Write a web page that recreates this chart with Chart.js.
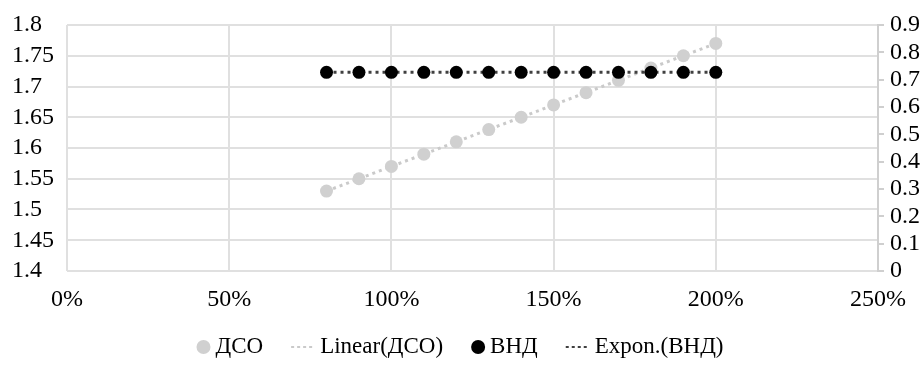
<!DOCTYPE html>
<html>
<head>
<meta charset="utf-8">
<script src="https://cdn.jsdelivr.net/npm/chart.js@4.4.1/dist/chart.umd.min.js"></script>
<style>
  html, body { margin: 0; padding: 0; background: #fff; }
  #wrap { width: 924px; height: 369px; }
</style>
</head>
<body>
<div id="wrap"><canvas id="c" width="924" height="369"></canvas></div>
<script>
// ---- data ----
const xPercent   = [80, 90, 100, 110, 120, 130, 140, 150, 160, 170, 180, 190, 200];
const dsoValues  = [1.53, 1.55, 1.57, 1.59, 1.61, 1.63, 1.65, 1.67, 1.69, 1.71, 1.73, 1.75, 1.77];
const vndValues  = [0.727, 0.727, 0.727, 0.727, 0.727, 0.727, 0.727, 0.727, 0.727, 0.727, 0.727, 0.727, 0.727];
const trendX     = [80, 200];
const dsoTrend   = [1.53, 1.77];
const vndTrend   = [0.727, 0.727];
const seriesLabels = ['ДСО', 'Linear(ДСО)', 'ВНД', 'Expon.(ВНД)'];

const FONT = "'Liberation Serif', 'Times New Roman', serif";
const toPts = (xs, ys) => xs.map((x, i) => ({x: x, y: ys[i]}));

const legendPlugin = {
  id: 'customLegend',
  afterDraw(chart) {
    const ctx = chart.ctx;
    const items = chart.data.datasets.map(d => d).sort((a, b) => a.legendIndex - b.legendIndex);
    ctx.save();
    ctx.font = '23px ' + FONT;
    ctx.textBaseline = 'middle';
    const gapItem = 28, circleW = 14, lineW = 24, gapText = 5;
    const widths = items.map(d => (d.legendType === 'circle' ? circleW : lineW) + gapText + ctx.measureText(d.label).width);
    const total = widths.reduce((a, b) => a + b, 0) + gapItem * (items.length - 1);
    let x = 460 - total / 2;
    const y = 347;
    items.forEach((d, i) => {
      if (d.legendType === 'circle') {
        ctx.beginPath();
        ctx.arc(x + circleW / 2, y, 7, 0, Math.PI * 2);
        ctx.fillStyle = d.backgroundColor;
        ctx.fill();
        x += circleW + gapText;
      } else {
        ctx.beginPath();
        ctx.setLineDash([3, 3]);
        ctx.lineWidth = 2;
        ctx.strokeStyle = d.borderColor;
        ctx.moveTo(x, y);
        ctx.lineTo(x + lineW, y);
        ctx.stroke();
        ctx.setLineDash([]);
        x += lineW + gapText;
      }
      ctx.fillStyle = '#000';
      ctx.textAlign = 'left';
      ctx.fillText(d.label, x, y);
      x += ctx.measureText(d.label).width + gapItem;
    });
    ctx.restore();
  }
};

new Chart(document.getElementById('c'), {
  type: 'scatter',
  data: {
    datasets: [
      {
        label: seriesLabels[2], legendIndex: 2, legendType: 'circle',
        data: toPts(xPercent, vndValues), yAxisID: 'y1',
        backgroundColor: '#000000', borderColor: '#000000',
        pointRadius: 6.5, pointBorderWidth: 0, order: 0
      },
      {
        label: seriesLabels[3], legendIndex: 3, legendType: 'line',
        data: toPts(trendX, vndTrend), yAxisID: 'y1', showLine: true,
        borderColor: '#404040', borderWidth: 3, borderDash: [3, 4],
        pointRadius: 0, order: 1
      },
      {
        label: seriesLabels[0], legendIndex: 0, legendType: 'circle',
        data: toPts(xPercent, dsoValues), yAxisID: 'y',
        backgroundColor: '#d0d0d0', borderColor: '#d0d0d0',
        pointRadius: 6.5, pointBorderWidth: 0, order: 2
      },
      {
        label: seriesLabels[1], legendIndex: 1, legendType: 'line',
        data: toPts(trendX, dsoTrend), yAxisID: 'y', showLine: true,
        borderColor: '#cacaca', borderWidth: 3, borderDash: [3, 4],
        pointRadius: 0, order: 3
      }
    ]
  },
  options: {
    responsive: false,
    animation: false,
    devicePixelRatio: 1,
    layout: { padding: { left: 12, top: 25, right: 0, bottom: 0 } },
    plugins: { legend: { display: false }, tooltip: { enabled: false } },
    scales: {
      x: {
        type: 'linear', min: 0, max: 250,
        ticks: { stepSize: 50, autoSkip: false, callback: v => v + '%', color: '#000', font: { family: FONT, size: 24 }, padding: 14, maxRotation: 0 },
        grid: { color: '#e0e0e0', lineWidth: 2, drawTicks: false },
        border: { display: false },
        afterFit(s) { s.height = 98; }
      },
      y: {
        position: 'left', min: 1.4, max: 1.8,
        ticks: { stepSize: 0.05, autoSkip: false, color: '#000', font: { family: FONT, size: 24 }, crossAlign: 'far', padding: 0,
                 callback: v => String(Math.round(v * 100) / 100) },
        grid: { color: '#e0e0e0', lineWidth: 2, drawTicks: false },
        border: { display: false },
        afterFit(s) { s.width = 55; }
      },
      y1: {
        position: 'right', min: 0, max: 0.9,
        ticks: { stepSize: 0.1, autoSkip: false, color: '#000', font: { family: FONT, size: 24 }, padding: 6,
                 callback: v => String(Math.round(v * 10) / 10) },
        grid: { drawOnChartArea: false, drawTicks: true, tickLength: 6, color: '#cfcfcf', lineWidth: 2 },
        border: { display: true, color: '#cfcfcf', width: 2 },
        afterFit(s) { s.width = 46; }
      }
    }
  },
  plugins: [legendPlugin]
});
</script>
</body>
</html>
